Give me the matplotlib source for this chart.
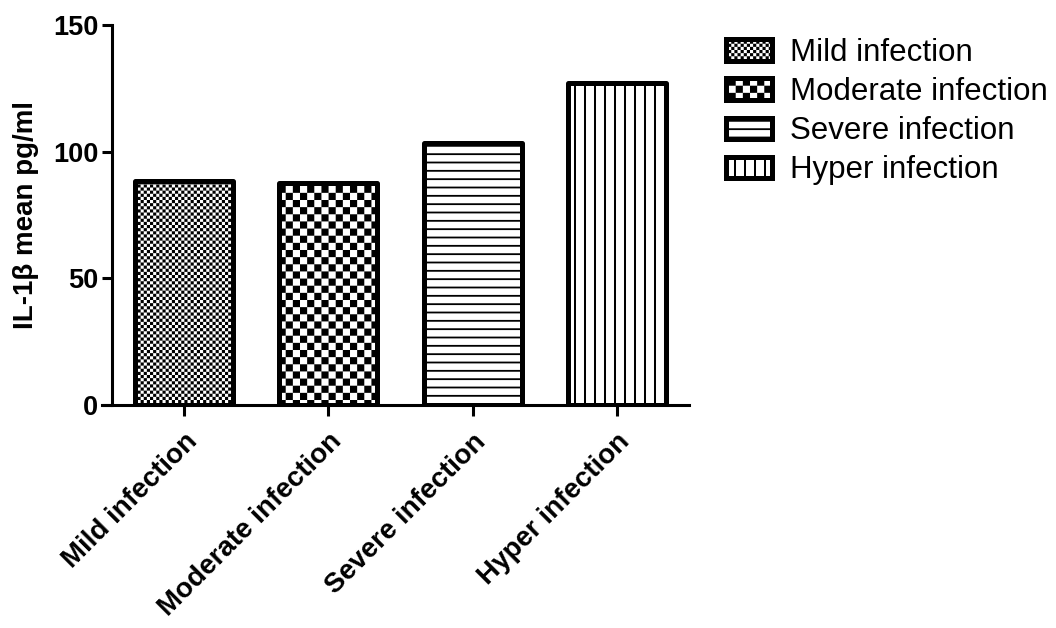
import numpy as np
import matplotlib
matplotlib.use("Agg")
import matplotlib.pyplot as plt
import matplotlib.hatch as mhatch
import matplotlib.transforms as mtransforms
from matplotlib.path import Path

# ---------------- data ----------------
categories = ["Mild infection", "Moderate infection", "Severe infection", "Hyper infection"]
values = [88.5, 87.7, 103.5, 127.3]
yticks = [0, 50, 100, 150]
ylabel = "IL-1\u03b2 mean pg/ml"
hatches = ["o", "O", "-", "|"]


# ---------------- custom hatch patterns (filled shapes) ----------------
class CustomHatch(mhatch.HatchPatternBase):
    """o: fine checkerboard, O: coarse checkerboard, -: horizontal bars, |: vertical bars."""

    def __init__(self, hatch, density):
        self.shapes = []
        if "o" in hatch:
            self.shapes += self._checker(32)
        if "O" in hatch:
            self.shapes += self._checker(14)
        if "-" in hatch:
            self.shapes += self._bars(12, 0.018, horizontal=True)
        if "|" in hatch:
            self.shapes += self._bars(10, 0.02, horizontal=False)
        self.num_vertices = 5 * len(self.shapes)

    @staticmethod
    def _checker(n):
        s = 1.0 / n
        out = []
        for i in range(n):
            for j in range(n):
                if (i + j) % 2 == 0:
                    out.append((i * s, j * s, s, s))
        return out

    @staticmethod
    def _bars(n, t, horizontal):
        step = 1.0 / n
        out = []
        for k in range(n):
            c = k * step + step / 2
            if horizontal:
                out.append((0.0, c - t / 2, 1.0, t))
            else:
                out.append((c - t / 2, 0.0, t, 1.0))
        return out

    def set_vertices_and_codes(self, vertices, codes):
        for k, (x0, y0, w, h) in enumerate(self.shapes):
            i = 5 * k
            vertices[i:i + 5] = [(x0, y0), (x0 + w, y0), (x0 + w, y0 + h),
                                 (x0, y0 + h), (x0, y0)]
            codes[i] = Path.MOVETO
            codes[i + 1:i + 4] = Path.LINETO
            codes[i + 4] = Path.CLOSEPOLY


mhatch._hatch_types[:] = [CustomHatch]

plt.rcParams["font.family"] = ["Liberation Sans", "DejaVu Sans"]
plt.rcParams["hatch.linewidth"] = 0.01
plt.rcParams["hatch.color"] = "black"

fig = plt.figure(figsize=(10.56, 6.28), dpi=100)
ax = fig.add_axes([0.1061, 0.3551, 0.5464, 0.6046])

x = np.arange(len(categories))
bars = ax.bar(x, values, width=0.68, facecolor="white", edgecolor="black",
              linewidth=3.6)
for b, h, lab in zip(bars, hatches, categories):
    b.set_hatch(h)
    b.set_joinstyle("round")
    b.set_label(lab)

ax.set_xlim(-0.5, 3.5)
ax.set_ylim(0, 150)
ax.set_yticks(yticks)
ax.set_xticks(x)
ax.set_xticklabels(categories, rotation=45, ha="right", va="top",
                   rotation_mode="anchor", fontsize=20, fontweight="bold")
offset = mtransforms.ScaledTranslation(-7 / 100, 0, fig.dpi_scale_trans)
for lbl in ax.get_xticklabels():
    lbl.set_transform(lbl.get_transform() + offset)
ax.tick_params(axis="y", labelsize=19.5, width=2.2, length=7, pad=3)
ax.tick_params(axis="x", width=2.2, length=8, pad=9)
for lbl in ax.get_yticklabels():
    lbl.set_fontweight("bold")

for side in ("top", "right"):
    ax.spines[side].set_visible(False)
for side in ("left", "bottom"):
    ax.spines[side].set_linewidth(2.2)
ax.spines["bottom"].set_bounds(-0.57, 3.5)

ax.set_ylabel(ylabel, fontsize=20, fontweight="bold", labelpad=10)

leg = fig.legend(handles=list(bars), labels=categories, loc="upper left",
                 bbox_to_anchor=(0.6875, 0.939), frameon=False, fontsize=22.5,
                 handlelength=1.47, handleheight=0.7, handletextpad=0.58,
                 labelspacing=0.29, borderpad=0, borderaxespad=0)

fig.savefig("out.png", dpi=100)
